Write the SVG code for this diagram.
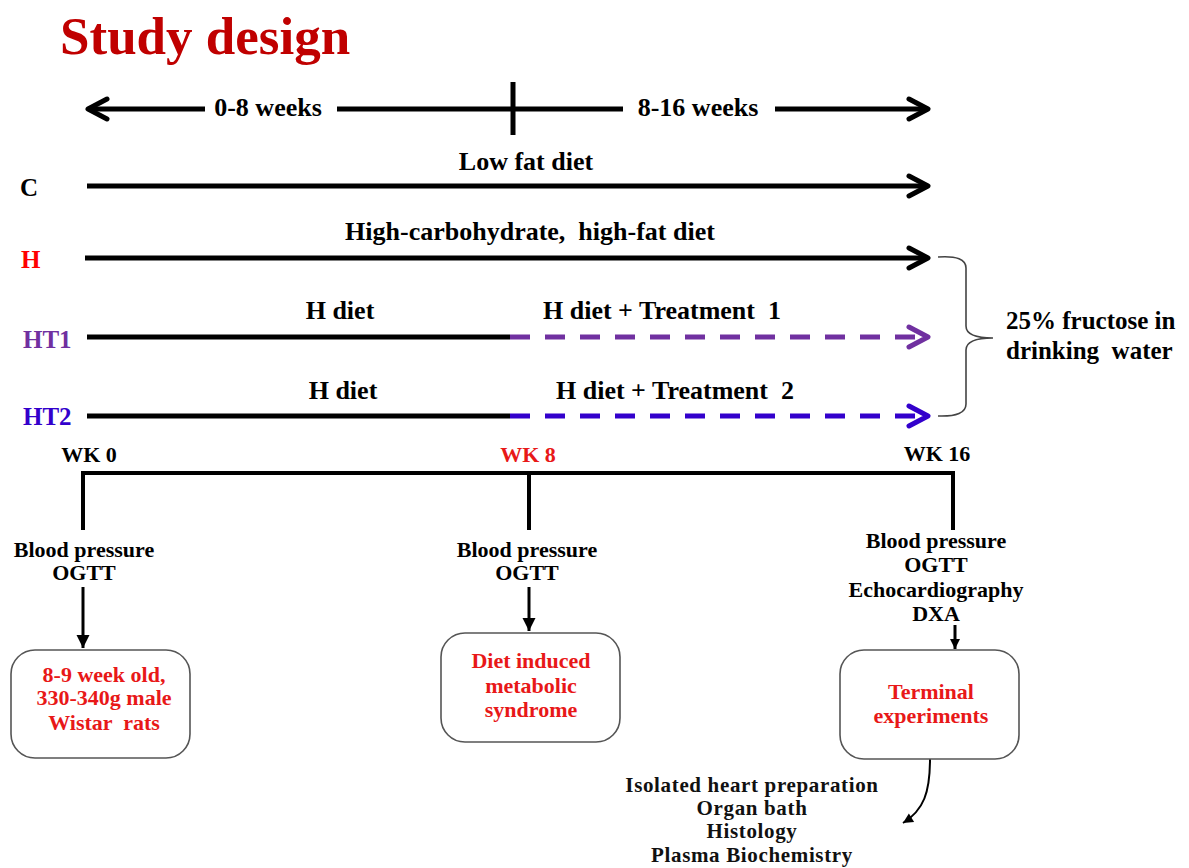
<svg xmlns="http://www.w3.org/2000/svg" width="1189" height="868" viewBox="0 0 1189 868">
<defs>
<style>
text{font-family:"Liberation Serif","Times New Roman",serif;font-weight:bold}
.t26{font-size:26px;fill:#000;text-anchor:middle}
.lbl{font-size:25px}
.b22{font-size:22px;fill:#000;text-anchor:middle}
.red{font-size:22px;fill:#E81818;text-anchor:middle}
.list{font-size:21px;fill:#111;text-anchor:middle;letter-spacing:0.65px}
.ln{stroke:#000;stroke-width:5;fill:none}
.tl{stroke:#000;stroke-width:4;fill:none}
.box{fill:#fff;stroke:#555;stroke-width:1.6}
</style>
<marker id="chevK" markerUnits="userSpaceOnUse" viewBox="-26 -14 30 28" refX="0" refY="0" markerWidth="30" markerHeight="28" orient="auto">
<path d="M-19,-10 L0,0 L-19,10" fill="none" stroke="#000" stroke-width="5" stroke-linecap="round" stroke-linejoin="round"/>
</marker>
<marker id="chevP" markerUnits="userSpaceOnUse" viewBox="-26 -14 30 28" refX="0" refY="0" markerWidth="30" markerHeight="28" orient="auto">
<path d="M-19,-10 L0,0 L-19,10" fill="none" stroke="#7030A0" stroke-width="5" stroke-linecap="round" stroke-linejoin="round"/>
</marker>
<marker id="chevB" markerUnits="userSpaceOnUse" viewBox="-26 -14 30 28" refX="0" refY="0" markerWidth="30" markerHeight="28" orient="auto">
<path d="M-19,-10 L0,0 L-19,10" fill="none" stroke="#3300CC" stroke-width="5" stroke-linecap="round" stroke-linejoin="round"/>
</marker>
<marker id="tri" markerUnits="userSpaceOnUse" viewBox="-14 -8 16 16" refX="0" refY="0" markerWidth="16" markerHeight="16" orient="auto">
<path d="M-13,-6.5 L0,0 L-13,6.5 Z" fill="#000"/>
</marker>
<marker id="triS" markerUnits="userSpaceOnUse" viewBox="-12 -7 14 14" refX="0" refY="0" markerWidth="14" markerHeight="14" orient="auto">
<path d="M-10,-5 L0,0 L-10,5 Z" fill="#000"/>
</marker>
</defs>
<rect width="1189" height="868" fill="#fff"/>

<g id="title">
<text x="60" y="54" style="font-size:53px;fill:#C00000">Study design</text>
</g>

<g id="connectors">
<line class="ln" x1="205" y1="109" x2="88" y2="109" marker-end="url(#chevK)"/>
<line class="ln" x1="337" y1="109" x2="623" y2="109"/>
<line class="ln" x1="513" y1="82" x2="513" y2="135"/>
<line class="ln" x1="775" y1="109" x2="928" y2="109" marker-end="url(#chevK)"/>
<line class="ln" x1="87" y1="186" x2="928" y2="186" marker-end="url(#chevK)"/>
<line class="ln" x1="85" y1="258" x2="928" y2="258" marker-end="url(#chevK)"/>
<line class="ln" x1="87" y1="337" x2="510" y2="337"/>
<line x1="510" y1="337" x2="928" y2="337" stroke="#7030A0" stroke-width="5" stroke-dasharray="20 15" marker-end="url(#chevP)"/>
<line class="ln" x1="87" y1="416" x2="510" y2="416"/>
<line x1="510" y1="416" x2="928" y2="416" stroke="#3300CC" stroke-width="5" stroke-dasharray="20 15" marker-end="url(#chevB)"/>
<path d="M938,257 Q966,255 966,268 L966,326 Q966,338 993,338 Q966,338 966,350 L966,404 Q966,417 938,416" fill="none" stroke="#444" stroke-width="1.6"/>
<path class="tl" d="M83,530 V473 H953 V530"/>
<line class="tl" x1="529" y1="473" x2="529" y2="530"/>
<line x1="83" y1="587" x2="83" y2="648" stroke="#000" stroke-width="3" marker-end="url(#tri)"/>
<line x1="529" y1="587" x2="529" y2="631" stroke="#000" stroke-width="3" marker-end="url(#tri)"/>
<line x1="955" y1="625" x2="955" y2="649" stroke="#000" stroke-width="3" marker-end="url(#triS)"/>
<path d="M930,759 C930,792 924,810 903,823" fill="none" stroke="#000" stroke-width="2" marker-end="url(#triS)"/>
</g>

<g id="period-labels">
<text class="t26" x="268" y="116">0-8 weeks</text>
<text class="t26" x="698" y="116">8-16 weeks</text>
</g>

<g id="group-C">
<text class="lbl" x="20" y="196" fill="#000">C</text>
<text class="t26" x="526" y="170">Low fat diet</text>
</g>
<g id="group-H">
<text class="lbl" x="21" y="268" fill="#FF0000">H</text>
<text class="t26" x="530" y="240" xml:space="preserve">High-carbohydrate,  high-fat diet</text>
</g>
<g id="group-HT1">
<text class="lbl" x="23" y="348" fill="#7030A0">HT1</text>
<text class="t26" x="340" y="319">H diet</text>
<text class="t26" x="662" y="319" xml:space="preserve">H diet + Treatment  1</text>
</g>
<g id="group-HT2">
<text class="lbl" x="23" y="425" fill="#3300CC">HT2</text>
<text class="t26" x="343" y="399">H diet</text>
<text class="t26" x="675" y="399" xml:space="preserve">H diet + Treatment  2</text>
</g>
<g id="fructose">
<text x="1006" y="329" style="font-size:25px;fill:#000">25% fructose in</text>
<text x="1006" y="359" style="font-size:25px;fill:#000" xml:space="preserve">drinking  water</text>
</g>

<g id="wk0">
<text class="b22" x="89" y="462">WK 0</text>
<text class="b22" x="84" y="557">Blood pressure</text>
<text class="b22" x="84" y="580">OGTT</text>
<rect class="box" x="11" y="650" width="179" height="108" rx="24"/>
<text class="red" x="104" y="682">8-9 week old,</text>
<text class="red" x="104" y="705">330-340g male</text>
<text class="red" x="104" y="730" xml:space="preserve">Wistar  rats</text>
</g>

<g id="wk8">
<text class="b22" x="528" y="462" style="fill:#E81818">WK 8</text>
<text class="b22" x="527" y="557">Blood pressure</text>
<text class="b22" x="527" y="580">OGTT</text>
<rect class="box" x="441" y="633" width="179" height="109" rx="24"/>
<text class="red" x="531" y="668">Diet induced</text>
<text class="red" x="531" y="693">metabolic</text>
<text class="red" x="531" y="717">syndrome</text>
</g>

<g id="wk16">
<text class="b22" x="937" y="461">WK 16</text>
<text class="b22" x="936" y="548">Blood pressure</text>
<text class="b22" x="936" y="572">OGTT</text>
<text class="b22" x="936" y="597">Echocardiography</text>
<text class="b22" x="936" y="621">DXA</text>
<rect class="box" x="840" y="650" width="179" height="109" rx="24"/>
<text class="red" x="931" y="699">Terminal</text>
<text class="red" x="931" y="723">experiments</text>
</g>

<g id="terminal-list">
<text class="list" x="752" y="792">Isolated heart preparation</text>
<text class="list" x="752" y="815">Organ bath</text>
<text class="list" x="752" y="838">Histology</text>
<text class="list" x="752" y="862">Plasma Biochemistry</text>
</g>
</svg>
